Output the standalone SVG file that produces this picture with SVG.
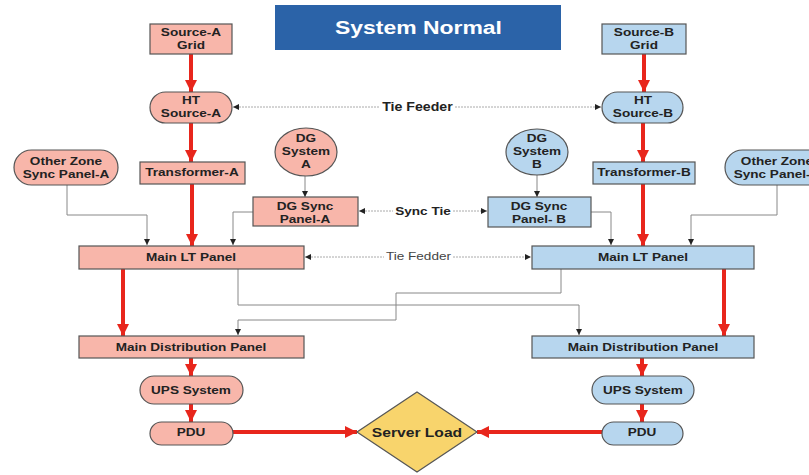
<svg xmlns="http://www.w3.org/2000/svg" width="809" height="475" viewBox="0 0 809 475">
<style>
.a rect,.a path,.a ellipse{fill:#f8b6aa;stroke:#555;stroke-width:1.2}
.b rect,.b path,.b ellipse{fill:#b7d6ee;stroke:#555;stroke-width:1.2}
text{font-family:"Liberation Sans",Arial,sans-serif;font-weight:bold;font-size:11.5px;fill:#222;text-anchor:middle;transform:scaleX(1.18);transform-box:fill-box;transform-origin:center}
text.t{font-size:18px;fill:#fff;transform:none}
.red{stroke:#e8261c;stroke-width:4;fill:none}
.thin{stroke:#888;stroke-width:1;fill:none}
.tie{stroke:#aaa;stroke-width:1;fill:none;stroke-dasharray:2 1}
</style>
<defs>
<marker id="ra" markerUnits="userSpaceOnUse" markerWidth="14" markerHeight="14" refX="12" refY="6" orient="auto">
<path d="M0,0 L12,6 L0,12 Z" fill="#e8261c"/>
</marker>
<marker id="ka" markerUnits="userSpaceOnUse" markerWidth="8" markerHeight="8" refX="6" refY="3" orient="auto">
<path d="M0,0 L6,3 L0,6 Z" fill="#222"/>
</marker>
<marker id="ks" markerUnits="userSpaceOnUse" markerWidth="8" markerHeight="8" refX="0" refY="3" orient="auto">
<path d="M6,0 L0,3 L6,6 Z" fill="#222"/>
</marker>
</defs>

<g id="title">
<rect x="275" y="5" width="286" height="45" fill="#2b63a8"/>
<text class="t" x="418.5" y="34" textLength="167" lengthAdjust="spacingAndGlyphs">System Normal</text>
</g>

<g id="connectors">
<line class="red" x1="191" y1="54" x2="191" y2="92" marker-end="url(#ra)"/>
<line class="red" x1="191" y1="123" x2="191" y2="162" marker-end="url(#ra)"/>
<line class="red" x1="192" y1="184" x2="192" y2="246" marker-end="url(#ra)"/>
<line class="red" x1="123" y1="269" x2="123" y2="336" marker-end="url(#ra)"/>
<line class="red" x1="191" y1="358" x2="191" y2="376" marker-end="url(#ra)"/>
<line class="red" x1="191" y1="404" x2="191" y2="422" marker-end="url(#ra)"/>
<line class="red" x1="233" y1="432" x2="357" y2="432" marker-end="url(#ra)"/>
<line class="red" x1="644" y1="54" x2="644" y2="92" marker-end="url(#ra)"/>
<line class="red" x1="643" y1="123" x2="643" y2="162" marker-end="url(#ra)"/>
<line class="red" x1="643" y1="184" x2="643" y2="246" marker-end="url(#ra)"/>
<line class="red" x1="724" y1="269" x2="724" y2="336" marker-end="url(#ra)"/>
<line class="red" x1="642" y1="358" x2="642" y2="376" marker-end="url(#ra)"/>
<line class="red" x1="642" y1="404" x2="642" y2="422" marker-end="url(#ra)"/>
<line class="red" x1="602" y1="432" x2="477" y2="432" marker-end="url(#ra)"/>
<line class="tie" x1="233" y1="107" x2="380" y2="107" marker-start="url(#ks)"/>
<line class="tie" x1="455" y1="107" x2="601" y2="107" marker-end="url(#ka)"/>
<line class="tie" x1="359" y1="211" x2="393" y2="211" marker-start="url(#ks)"/>
<line class="tie" x1="453" y1="211" x2="487" y2="211" marker-end="url(#ka)"/>
<line class="tie" x1="305" y1="257" x2="384" y2="257" marker-start="url(#ks)"/>
<line class="tie" x1="453" y1="257" x2="531" y2="257" marker-end="url(#ka)"/>
<line class="thin" x1="305" y1="176" x2="305" y2="197" marker-end="url(#ka)"/>
<line class="thin" x1="537" y1="175" x2="537" y2="197" marker-end="url(#ka)"/>
<polyline class="thin" points="67,185 67,215 147,215 147,245" marker-end="url(#ka)"/>
<polyline class="thin" points="253,212 233,212 233,245" marker-end="url(#ka)"/>
<polyline class="thin" points="591,212 611,212 611,245" marker-end="url(#ka)"/>
<polyline class="thin" points="777,185 777,215 691,215 691,245" marker-end="url(#ka)"/>
<polyline class="thin" points="238,269 238,305 579,305 579,335" marker-end="url(#ka)"/>
<polyline class="thin" points="561,269 561,293 396,293 396,320 238,320 238,335" marker-end="url(#ka)"/>
</g>

<g id="tie-labels">
<text x="417.5" y="111" style="font-size:12px">Tie Feeder</text>
<text x="423" y="215">Sync Tie</text>
<text x="418.5" y="260" style="font-weight:normal;fill:#444">Tie Fedder</text>
</g>

<g id="source-a" class="a"><rect x="150" y="24" width="82" height="30"/><text x="191" y="36">Source-A</text><text x="191" y="49">Grid</text></g>
<g id="ht-a" class="a"><rect x="150" y="92" width="82" height="31" rx="15.5"/><text x="191" y="104">HT</text><text x="191" y="117">Source-A</text></g>
<g id="transformer-a" class="a"><rect x="140" y="162" width="105" height="22"/><text x="192" y="176.5">Transformer-A</text></g>
<g id="otherzone-a" class="a"><rect x="14" y="150" width="104" height="35" rx="17.5"/><text x="66" y="165">Other Zone</text><text x="66" y="178">Sync Panel-A</text></g>
<g id="dg-a" class="a"><ellipse cx="306" cy="152" rx="31" ry="24"/><text x="306" y="142">DG</text><text x="306" y="155">System</text><text x="306" y="168">A</text></g>
<g id="dgsync-a" class="a"><rect x="253" y="197" width="105" height="29"/><text x="305" y="210">DG Sync</text><text x="305" y="223">Panel-A</text></g>
<g id="mainlt-a" class="a"><rect x="79" y="246" width="225" height="23"/><text x="191" y="261">Main LT Panel</text></g>
<g id="mdp-a" class="a"><rect x="79" y="336" width="225" height="22"/><text x="191" y="351">Main Distribution Panel</text></g>
<g id="ups-a" class="a"><rect x="140" y="376" width="103" height="28" rx="14"/><text x="191" y="394">UPS System</text></g>
<g id="pdu-a" class="a"><rect x="150" y="422" width="83" height="23" rx="11.5"/><text x="191" y="436.5">PDU</text></g>

<g id="source-b" class="b"><rect x="602" y="24" width="84" height="30"/><text x="644" y="36">Source-B</text><text x="644" y="49">Grid</text></g>
<g id="ht-b" class="b"><rect x="602" y="92" width="81" height="31" rx="15.5"/><text x="643" y="104">HT</text><text x="643" y="117">Source-B</text></g>
<g id="transformer-b" class="b"><rect x="593" y="162" width="102" height="22"/><text x="644" y="176.5">Transformer-B</text></g>
<g id="otherzone-b" class="b"><rect x="725" y="150" width="104" height="35" rx="17.5"/><text x="777" y="165">Other Zone</text><text x="777" y="178">Sync Panel-B</text></g>
<g id="dg-b" class="b"><ellipse cx="537" cy="152" rx="31" ry="23"/><text x="537" y="142">DG</text><text x="537" y="155">System</text><text x="537" y="168">B</text></g>
<g id="dgsync-b" class="b"><rect x="488" y="197" width="103" height="30"/><text x="539" y="210">DG Sync</text><text x="539" y="223">Panel- B</text></g>
<g id="mainlt-b" class="b"><rect x="532" y="246" width="222" height="23"/><text x="643" y="261">Main LT Panel</text></g>
<g id="mdp-b" class="b"><rect x="532" y="336" width="222" height="22"/><text x="643" y="351">Main Distribution  Panel</text></g>
<g id="ups-b" class="b"><rect x="592" y="376" width="102" height="28" rx="14"/><text x="643" y="394">UPS System</text></g>
<g id="pdu-b" class="b"><rect x="602" y="422" width="81" height="23" rx="11.5"/><text x="642" y="436.5">PDU</text></g>

<g id="server-load">
<path d="M417,392 L477,432 L417,472 L357,432 Z" fill="#f8d46c" stroke="#555" stroke-width="1.2"/>
<text x="417" y="437" style="font-size:13.25px">Server Load</text>
</g>
</svg>
